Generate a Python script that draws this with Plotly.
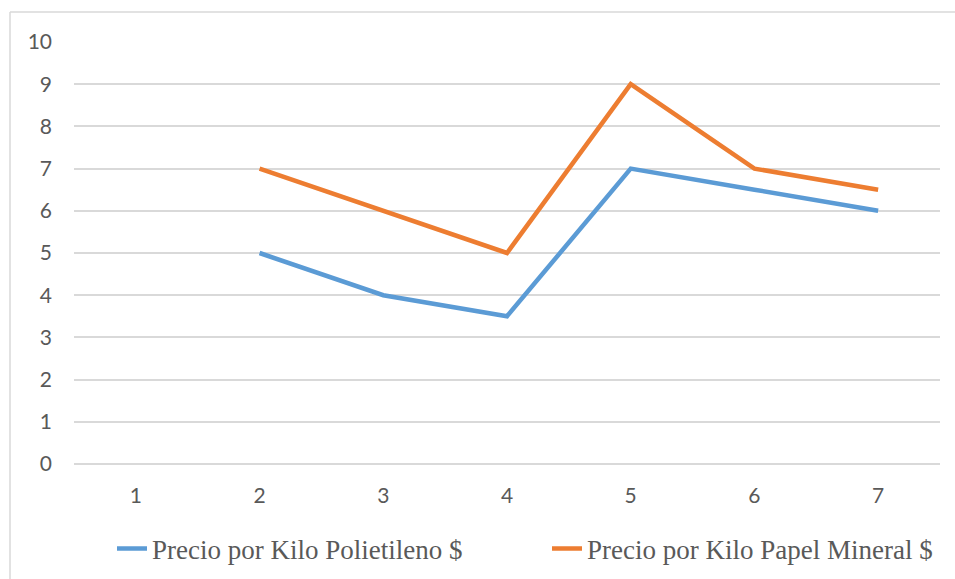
import plotly.graph_objects as go

categories = ["1", "2", "3", "4", "5", "6", "7"]
polietileno = [None, 5, 4, 3.5, 7, 6.5, 6]
papel_mineral = [None, 7, 6, 5, 9, 7, 6.5]
series_names = ["Precio por Kilo Polietileno $", "Precio por Kilo Papel Mineral $"]

fig = go.Figure()
fig.add_trace(go.Scatter(x=categories, y=polietileno, mode="lines", name=series_names[0],
                         line=dict(color="#5B9BD5", width=4.5), connectgaps=False))
fig.add_trace(go.Scatter(x=categories, y=papel_mineral, mode="lines", name=series_names[1],
                         line=dict(color="#ED7D31", width=4.5), connectgaps=False))

W, H = 955, 579
ml, mr, mt, mb = 74, 15, 42, 115
pw, ph = W - ml - mr, H - mt - mb

def px(x):
    return (x - ml) / pw

def py(y):
    return (H - mb - y) / ph

fig.update_layout(
    width=W, height=H,
    margin=dict(l=ml, r=mr, t=mt, b=mb, autoexpand=False),
    paper_bgcolor="white", plot_bgcolor="white",
    font=dict(family="Liberation Serif", color="#595959"),
    showlegend=True,
    legend=dict(orientation="h", x=px(112), xanchor="left", y=py(549), yanchor="middle",
                font=dict(family="Liberation Serif", size=27, color="#595959"),
                entrywidth=390, entrywidthmode="pixels", tracegroupgap=0),
    xaxis=dict(type="category", range=[-0.5, 6.5], showgrid=False, showline=False,
               ticks="", zeroline=False, ticklabelstandoff=17,
               tickfont=dict(family="Lato", size=21, color="#595959")),
    yaxis=dict(range=[0, 10], dtick=1, showgrid=True, gridcolor="#D9D9D9", gridwidth=1.5,
               zeroline=True, zerolinecolor="#D9D9D9", zerolinewidth=1.5,
               showline=False, ticks="", ticklabelstandoff=21,
               tickfont=dict(family="Lato", size=21, color="#595959")),
    shapes=[
        dict(type="line", xref="paper", yref="paper", x0=px(10), x1=px(960), y0=py(12), y1=py(12),
             line=dict(color="#D9D9D9", width=1.5)),
        dict(type="line", xref="paper", yref="paper", x0=px(10), x1=px(10), y0=py(12), y1=py(590),
             line=dict(color="#D9D9D9", width=1.5)),
    ],
)

fig.write_html("out.html")
